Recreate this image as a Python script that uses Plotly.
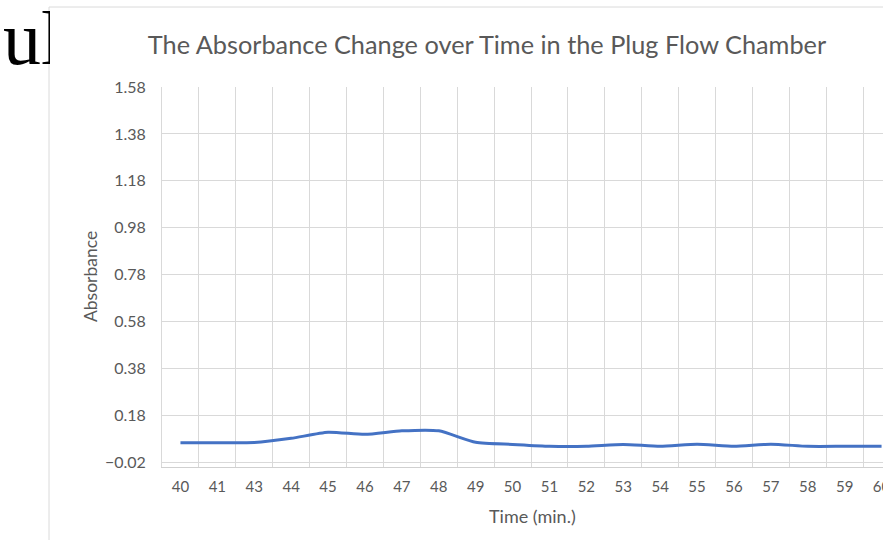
import plotly.graph_objects as go

# ---- data ----
time_labels = ["40", "41", "43", "44", "45", "46", "47", "48", "49", "50",
               "51", "52", "53", "54", "55", "56", "57", "58", "59", "60"]
absorbance = [0.062, 0.062, 0.063, 0.081, 0.107, 0.098, 0.113, 0.113, 0.064, 0.055,
              0.047, 0.047, 0.055, 0.047, 0.056, 0.047, 0.056, 0.047, 0.047, 0.047]
y_tick_start = -0.02
y_tick_step = 0.2

# ---- layout geometry (pixels) ----
FW, FH = 883, 540
L, R, T, B = 162, 883, 87, 467
PW, PH = R - L, B - T
CAT_W = 36.9
X_RANGE = [-0.5, -0.5 + PW / CAT_W]


def px(x):
    return (x - L) / PW


def py(y):
    return (B - y) / PH


GRID = "#d9d9d9"
TXT = "#595959"
FONT = "Lato"

fig = go.Figure()
fig.add_trace(go.Scatter(
    x=time_labels, y=absorbance, mode="lines",
    line=dict(color="#4472C4", width=3, shape="spline", smoothing=0.6),
    showlegend=False, hoverinfo="x+y",
))

fig.update_layout(
    width=FW, height=FH,
    margin=dict(l=L, r=FW - R, t=T, b=FH - B, autoexpand=False),
    paper_bgcolor="white", plot_bgcolor="white",
    font=dict(family=FONT, color=TXT),
    title=dict(
        text="The Absorbance Change over Time in the Plug Flow Chamber",
        font=dict(family=FONT, size=25.3, color=TXT),
        xref="container", yref="container",
        x=487 / FW, y=1 - 45 / FH, xanchor="center", yanchor="middle",
    ),
    xaxis=dict(
        type="category", range=X_RANGE, automargin=False,
        tickson="boundaries", ticks="", showgrid=True, gridcolor=GRID, gridwidth=1,
        showline=True, linecolor="#d0d0d0", linewidth=1,
        tickfont=dict(family=FONT, size=15, color=TXT),
        ticklabelstandoff=6, ticklabeloverflow="allow",
        zeroline=False, fixedrange=True,
    ),
    yaxis=dict(
        range=[-0.0413, 1.5805], tick0=y_tick_start, dtick=y_tick_step,
        tickformat=".2f", ticks="", showgrid=True, gridcolor=GRID, gridwidth=1,
        showline=True, linecolor=GRID, linewidth=1, zeroline=False, automargin=False,
        tickfont=dict(family=FONT, size=16, color=TXT),
        ticklabelstandoff=12, fixedrange=True,
    ),
    annotations=[
        dict(text="Absorbance", x=px(90), y=py(277), xref="paper", yref="paper",
             textangle=-90, showarrow=False, xanchor="center", yanchor="middle",
             font=dict(family=FONT, size=17.5, color=TXT)),
        dict(text="Time (min.)", x=px(532), y=py(516), xref="paper", yref="paper",
             showarrow=False, xanchor="center", yanchor="middle",
             font=dict(family=FONT, size=18, color=TXT)),
        dict(text="ul", x=px(2), y=py(38), xref="paper", yref="paper",
             showarrow=False, xanchor="left", yanchor="middle", align="left",
             width=47, borderpad=0,
             font=dict(family="Liberation Serif", size=76, color="black")),
    ],
    shapes=[
        dict(type="line", xref="paper", yref="paper", x0=px(49), x1=px(FW + 5),
             y0=py(7), y1=py(7), line=dict(color="#dadada", width=1)),
        dict(type="line", xref="paper", yref="paper", x0=px(49), x1=px(49),
             y0=py(7), y1=py(FH + 5), line=dict(color="#dadada", width=1)),
    ],
)

fig.write_html("out.html")
